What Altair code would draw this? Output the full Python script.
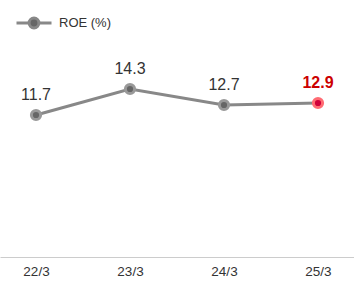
import altair as alt
import pandas as pd

years = ["22/3", "23/3", "24/3", "25/3"]
roe = [11.7, 14.3, 12.7, 12.9]
highlight = [False, False, False, True]
series = ["ROE (%)"] * 4

df = pd.DataFrame({"year": years, "roe": roe, "hl": highlight, "series": series})

FONT = "Liberation Sans"
x = alt.X("year:N", sort=years,
          scale=alt.Scale(type="point", padding=0.383),
          axis=alt.Axis(title=None, labelAngle=0, ticks=False, domainColor="#cccccc",
                        domainWidth=1, labelColor="#333333", labelFontSize=13.5,
                        labelFont=FONT, labelPadding=7, grid=False))
y = alt.Y("roe:Q", scale=alt.Scale(domain=[-2.5, 23.2], nice=False, zero=False),
          axis=None)

legend_path = ("M-1,0L-0.3,0M0.3,0L1,0"
               "M-0.28,0A0.28,0.28 0 1,0 0.28,0A0.28,0.28 0 1,0 -0.28,0Z")

line = alt.Chart(df).mark_line(strokeWidth=3).encode(
    x=x, y=y,
    color=alt.Color("series:N", scale=alt.Scale(range=["#888888"]),
                    legend=alt.Legend(title=None, orient="none", legendX=15, legendY=4,
                                      symbolType=legend_path, symbolSize=1225,
                                      symbolStrokeWidth=3, symbolFillColor="#666666",
                                      symbolStrokeColor="#999999",
                                      labelFont=FONT, labelFontSize=13,
                                      labelColor="#333333", padding=0, labelOffset=6)),
)

points = alt.Chart(df).mark_point(filled=True, size=85, strokeWidth=3, opacity=1).encode(
    x=x, y=y,
    fill=alt.condition("datum.hl", alt.value("#d0003a"), alt.value("#666666")),
    stroke=alt.condition("datum.hl", alt.value("#ff6b73"), alt.value("#999999")),
)

labels = alt.Chart(df).mark_text(dy=-12, baseline="bottom", fontSize=16, font=FONT,
                                 color="#333333").encode(
    x=x, y=y,
    text=alt.Text("roe:Q", format=".1f"),
).transform_filter("!datum.hl")

labels_hl = alt.Chart(df).mark_text(dy=-12, baseline="bottom", fontSize=16, font=FONT,
                                    color="#cc0000", fontWeight="bold").encode(
    x=x, y=y,
    text=alt.Text("roe:Q", format=".1f"),
).transform_filter("datum.hl")

chart = alt.layer(line, points, labels, labels_hl).properties(
    width=354, height=257, padding=0,
).configure_view(stroke=None)

chart.save("out.html", embed_options={"renderer": "svg", "actions": False})
